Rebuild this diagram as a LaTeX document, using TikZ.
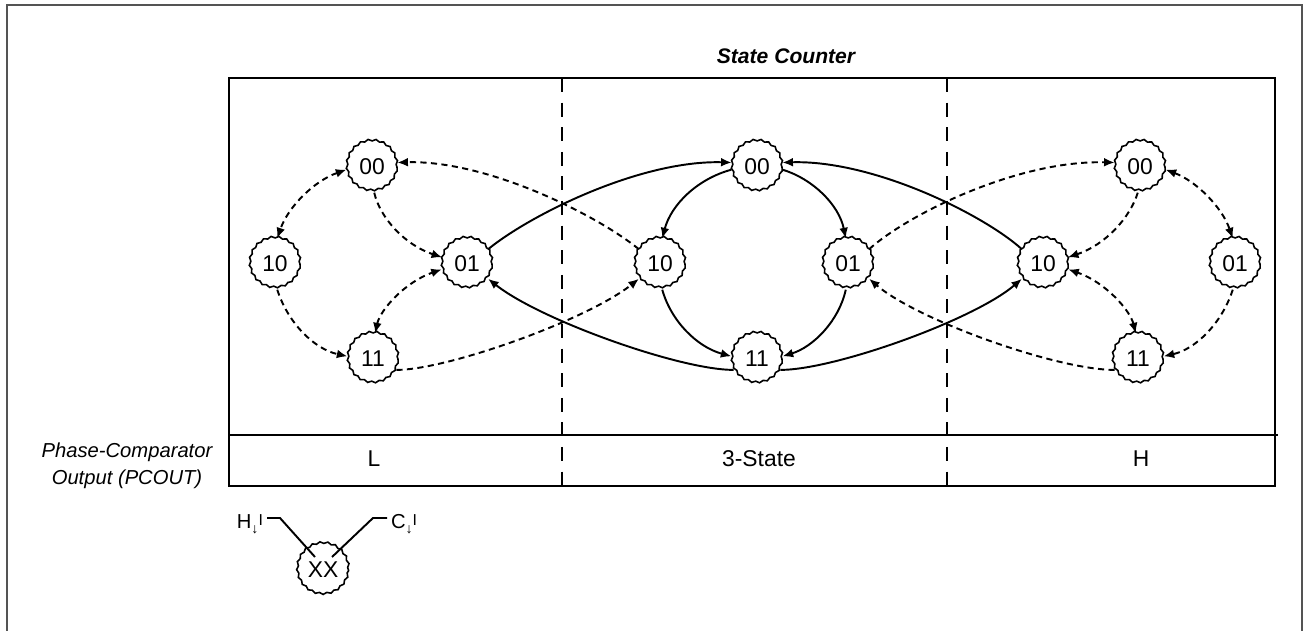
\documentclass[tikz,border=0pt]{standalone}
\usepackage{fontspec}
\setmainfont{Liberation Sans}
\usetikzlibrary{arrows.meta,decorations.pathmorphing,backgrounds}
\begin{document}
\begin{tikzpicture}[x=0.02cm,y=-0.02cm,
  st/.style={circle,draw,fill=white,minimum size=1cm,inner sep=0pt,line width=0.9pt,
    decorate,decoration={snake,segment length=4.4pt,amplitude=0.5pt},
    font=\fontsize{13}{13}\selectfont},
  ed/.style={line width=1.1pt,>={Latex[length=6pt,width=5pt]}},
  dd/.style={ed,dash pattern=on 3.5pt off 2.5pt},
  lbl/.style={font=\fontsize{13}{15}\selectfont}]
\useasboundingbox (0,0) rectangle (1305,631);

% states
\node[st] (L00) at (372,167) {00};
\node[st] (L10) at (275,264) {10};
\node[st] (L01) at (467,264) {01};
\node[st] (L11) at (373,359) {11};
\node[st] (M00) at (757,167) {00};
\node[st] (M10) at (660,264) {10};
\node[st] (M01) at (848,264) {01};
\node[st] (M11) at (757,359) {11};
\node[st] (R00) at (1140,167) {00};
\node[st] (R10) at (1043,264) {10};
\node[st] (R01) at (1235,264) {01};
\node[st] (R11) at (1138,359) {11};

\begin{pgfonlayer}{background}
% frames
\draw[line width=1.2pt, color=black!67] (7,631) -- (7,5) -- (1302,5) -- (1302,631);
\draw[line width=1.4pt] (229,78) rectangle (1275,486);
\draw[line width=1.4pt] (229,435) -- (1278,435);
\draw[line width=1.1pt, dash pattern=on 8pt off 6pt] (562,78) -- (562,486);
\draw[line width=1.1pt, dash pattern=on 8pt off 6pt] (947,78) -- (947,486);

% left group
\draw[dd,<->] (L00.186) .. controls (314,181) and (288,207) .. (L10.85);
\draw[dd,->] (L00.275) .. controls (380,218) and (405,245) .. (L01.165);
\draw[dd,->] (L10.275) .. controls (288,323) and (314,349) .. (L11.174);
\draw[dd,<->] (L11.85) .. controls (380,310) and (405,282) .. (L01.192);
% cross left
\draw[dd,->] (M10.145) .. controls (597,215) and (487,160) .. (L00.10);
\draw[dd,->] (L11.335) .. controls (447,370) and (587,320) .. (M10.215);
% big solid
\draw[ed,->] (L01.35) .. controls (530,215) and (640,160) .. (M00.170);
\draw[ed,->] (M11.205) .. controls (680,370) and (540,320) .. (L01.325);
\draw[ed,->] (R10.145) .. controls (984,215) and (874,160) .. (M00.10);
\draw[ed,->] (M11.335) .. controls (834,370) and (974,320) .. (R10.215);
% middle ring
\draw[ed,->] (M00.186) .. controls (697,179) and (671,205) .. (M10.85);
\draw[ed,->] (M00.354) .. controls (813,179) and (839,205) .. (M01.95);
\draw[ed,->] (M10.275) .. controls (671,321) and (697,347) .. (M11.174);
\draw[ed,->] (M01.265) .. controls (839,321) and (813,347) .. (M11.6);
% cross right
\draw[dd,->] (M01.35) .. controls (907,215) and (1017,160) .. (R00.170);
\draw[dd,->] (R11.205) .. controls (1057,370) and (917,320) .. (M01.325);
% right group
\draw[dd,<->] (R00.354) .. controls (1196,181) and (1222,207) .. (R01.95);
\draw[dd,->] (R00.265) .. controls (1130,218) and (1105,245) .. (R10.15);
\draw[dd,<->] (R11.95) .. controls (1130,310) and (1105,282) .. (R10.348);
\draw[dd,->] (R01.265) .. controls (1222,323) and (1196,349) .. (R11.6);
\end{pgfonlayer}

% texts
\node[font=\fontsize{12}{14}\selectfont\bfseries\itshape] (title) at (786,56) {State Counter};
\node[align=center, font=\fontsize{11.5}{15.3}\selectfont\itshape] (pc) at (127,466) {Phase-Comparator\\Output (PCOUT)};
\node[lbl] (tL) at (374,459) {L};
\node[lbl] (t3) at (759,459) {3-State};
\node[lbl] (tH) at (1141,459) {H};

% legend
\node[st, minimum size=1.02cm] (xx) at (323,570) {XX};
\node[anchor=east, inner sep=1pt, font=\fontsize{11.5}{13}\selectfont] (hl) at (265,524)
  {H\raisebox{-0.4ex}{\fontsize{8}{8}\selectfont ↓}\raisebox{0.35ex}{\fontsize{9}{9}\selectfont I}};
\node[anchor=west, inner sep=1pt, font=\fontsize{11.5}{13}\selectfont] (cl) at (389,524)
  {C\raisebox{-0.4ex}{\fontsize{8}{8}\selectfont ↓}\raisebox{0.35ex}{\fontsize{9}{9}\selectfont I}};
\coordinate (h1) at (267,518);
\coordinate (h2) at (280,518);
\coordinate (xa) at (315,557);
\coordinate (c1) at (387,518);
\coordinate (c2) at (373,518);
\coordinate (xb) at (332,557);
\draw[ed] (h1) -- (h2) -- (xa);
\draw[ed] (c1) -- (c2) -- (xb);
\end{tikzpicture}
\end{document}
